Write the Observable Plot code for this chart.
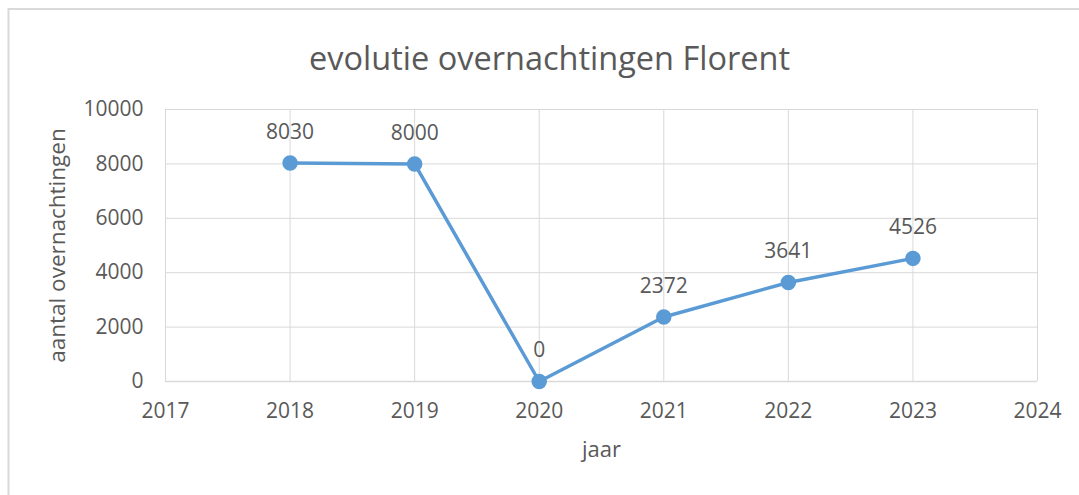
<!DOCTYPE html>
<html>
<head>
<meta charset="utf-8">
<script src="https://cdn.jsdelivr.net/npm/d3@7"></script>
<script src="https://cdn.jsdelivr.net/npm/@observablehq/plot@0.6"></script>
<style>
  html, body { margin: 0; padding: 0; background: #fff; }
  #chart { width: 1079px; height: 495px; }
</style>
</head>
<body>
<div id="chart"></div>
<script>
const years = [2018, 2019, 2020, 2021, 2022, 2023];
const stays = [8030, 8000, 0, 2372, 3641, 4526];
const xTicks = [2017, 2018, 2019, 2020, 2021, 2022, 2023, 2024];
const yTicks = [0, 2000, 4000, 6000, 8000, 10000];
const title = "evolutie overnachtingen Florent";
const xLabel = "jaar";
const yLabel = "aantal overnachtingen";

const data = years.map((y, i) => ({year: y, value: stays[i]}));
const font = "'Open Sans', 'Liberation Sans', sans-serif";
const textColor = "#595959";
const gridColor = "#d9d9d9";
const lineColor = "#5b9bd5";

const chart = Plot.plot({
  width: 1079,
  height: 495,
  marginLeft: 165,
  marginRight: 42,
  marginTop: 109,
  marginBottom: 114,
  style: {fontFamily: font, color: textColor, background: "transparent", overflow: "visible"},
  x: {domain: [2017, 2024], ticks: xTicks, tickFormat: d => String(d)},
  y: {domain: [0, 10000], ticks: yTicks, tickFormat: d => String(d)},
  marks: [
    Plot.gridX(xTicks, {stroke: gridColor, strokeOpacity: 1, strokeWidth: 1}),
    Plot.gridY(yTicks, {stroke: gridColor, strokeOpacity: 1, strokeWidth: 1}),
    Plot.ruleY([0], {stroke: gridColor, strokeWidth: 1.5}),
    Plot.axisX(xTicks, {tickSize: 0, tickPadding: 22, fontSize: 21, fill: textColor, label: null, tickFormat: d => String(d)}),
    Plot.axisY(yTicks, {tickSize: 0, tickPadding: 22, fontSize: 21, fill: textColor, label: null, tickFormat: d => String(d)}),
    Plot.line(data, {x: "year", y: "value", stroke: lineColor, strokeWidth: 3.5}),
    Plot.dot(data, {x: "year", y: "value", r: 7, fill: lineColor, stroke: lineColor}),
    Plot.text(data, {x: "year", y: "value", text: d => String(d.value), dy: -31, fontSize: 21, fill: textColor}),
    Plot.text([title], {frameAnchor: "top", dx: -52, dy: -63, fontSize: 32.5, fill: textColor}),
    Plot.text([xLabel], {frameAnchor: "bottom", dy: 75, fontSize: 22, fill: textColor}),
    Plot.text([yLabel], {frameAnchor: "left", textAnchor: "middle", dx: -108, dy: 0, rotate: -90, fontSize: 22.5, fill: textColor})
  ]
});

const svg = d3.select(chart);
svg.insert("rect", ":first-child")
  .attr("x", 8.5).attr("y", 9).attr("width", 1100).attr("height", 520)
  .attr("fill", "none").attr("stroke", gridColor).attr("stroke-width", 2);
document.getElementById("chart").appendChild(chart);
</script>
</body>
</html>
